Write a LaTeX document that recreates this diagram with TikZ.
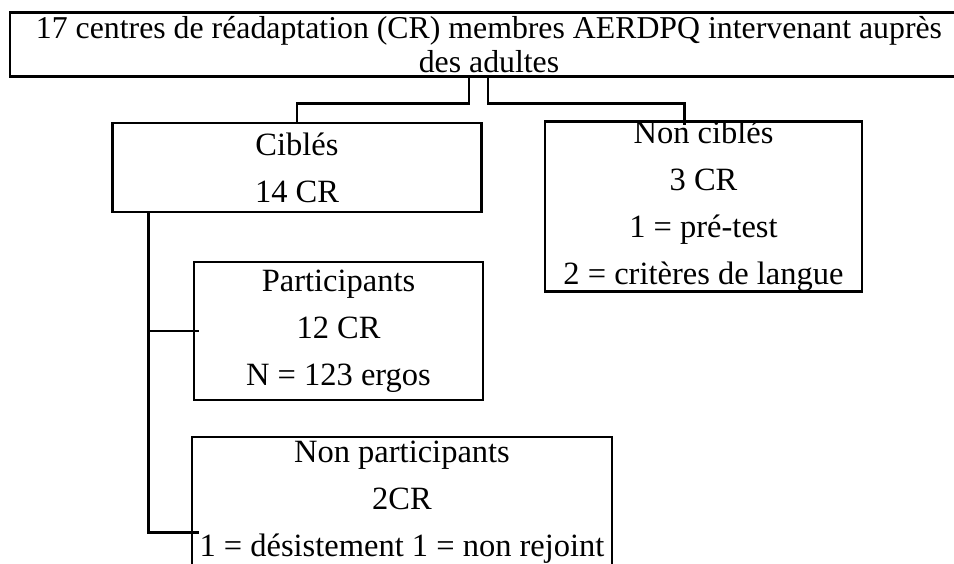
\documentclass[tikz,border=0pt]{standalone}
\usepackage{fontspec}
\setmainfont{Liberation Serif}
\begin{document}
\begin{tikzpicture}[x=1pt, y=-1pt,
    box/.style={draw, line width=2.8pt, inner sep=0pt, align=center,
      font=\fontsize{32.5}{47}\selectfont},
    link/.style={line width=2.8pt}]
    \useasboundingbox (0,0) rectangle (954,564);
    \clip (0,0) rectangle (954,564);
    \node[box, minimum width=958pt, minimum height=64pt,
      font=\fontsize{31.8}{34}\selectfont] (top) at (489,44.5)
      {17 centres de réadaptation (CR) membres AERDPQ intervenant auprès\\des adultes};
    \node[box, minimum width=369.5pt, minimum height=89pt] (cibles) at (297,167.5)
      {Ciblés\\14 CR};
    \node[box, minimum width=317pt, minimum height=167pt] (noncibles) at (703.5,206.5)
      {Non ciblés\\3 CR\\1 = pré-test\\2 = critères de langue};
    \node[box, minimum width=289pt, minimum height=138pt] (particip) at (338.5,331)
      {Participants\\12 CR\\N = 123 ergos};
    \node[box, minimum width=420pt, minimum height=131pt] (nonparticip) at (402,502.5)
      {Non participants\\2CR\\1 = désistement 1 = non rejoint};
    \coordinate (trunk) at ([xshift=37.5pt]cibles.south west);
    \coordinate (pp) at ([xshift=6pt]particip.west);
    \coordinate (np) at ([xshift=8pt,yshift=-30pt]nonparticip.west);
    \draw[link] ([xshift=-20pt]top.south) -- ++(0,26) -| (cibles.north);
    \draw[link] ([xshift=-1pt]top.south) -- ++(0,26) -| ([xshift=-19pt,yshift=-5pt]noncibles.north);
    \draw[link] (trunk) |- (pp);
    \draw[link] (trunk) |- (np);
\end{tikzpicture}
\end{document}
